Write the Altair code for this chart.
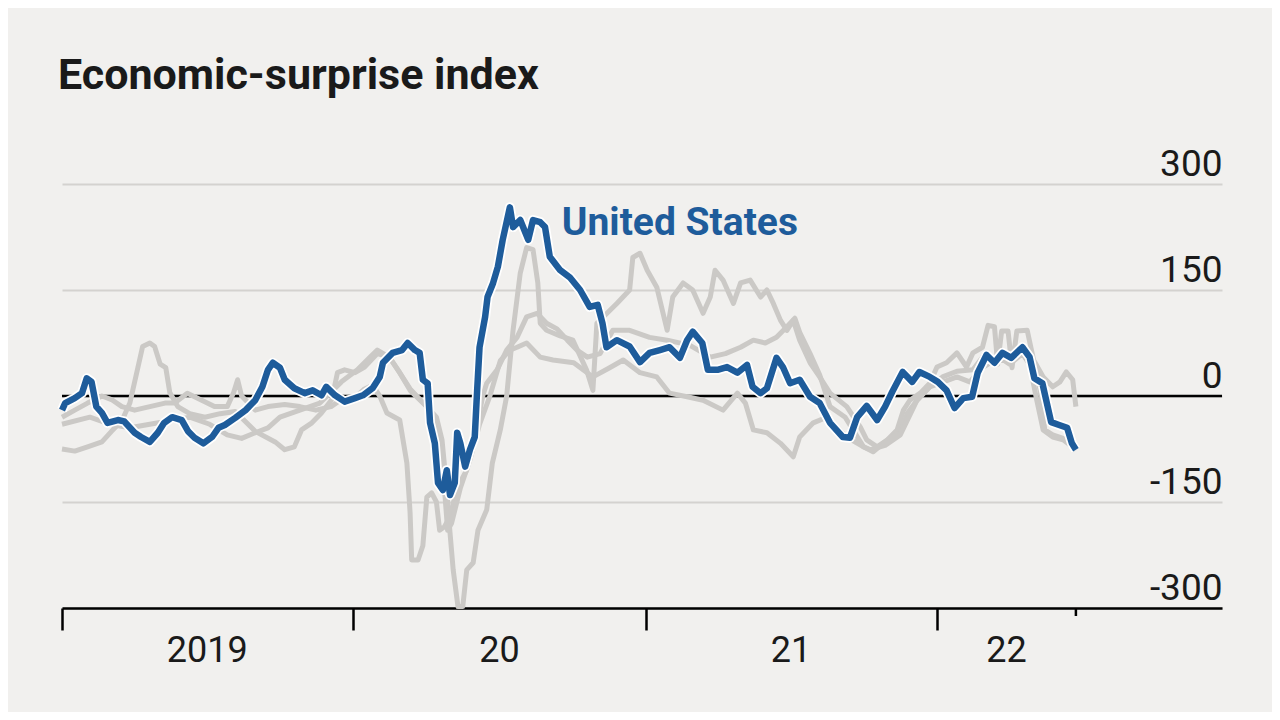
import altair as alt
import pandas as pd

# ---------------- data ----------------
us_dates = [
    "2019-01-01", "2019-01-05", "2019-01-17", "2019-01-26", "2019-02-01", "2019-02-07",
    "2019-02-13", "2019-02-20", "2019-02-27", "2019-03-12", "2019-03-20", "2019-04-02",
    "2019-04-10", "2019-04-21", "2019-05-01", "2019-05-09", "2019-05-19", "2019-05-31",
    "2019-06-08", "2019-06-16", "2019-06-27", "2019-07-08", "2019-07-16", "2019-07-24",
    "2019-08-06", "2019-08-19", "2019-08-31", "2019-09-09", "2019-09-16", "2019-09-22",
    "2019-10-01", "2019-10-07", "2019-10-19", "2019-11-01", "2019-11-11", "2019-11-22",
    "2019-11-28", "2019-12-09", "2019-12-21", "2020-01-03", "2020-01-13", "2020-01-25",
    "2020-02-03", "2020-02-07", "2020-02-19", "2020-03-02", "2020-03-09", "2020-03-18",
    "2020-03-24", "2020-03-28", "2020-04-03", "2020-04-06", "2020-04-12", "2020-04-16",
    "2020-04-22", "2020-04-27", "2020-05-01", "2020-05-07", "2020-05-10", "2020-05-14",
    "2020-05-20", "2020-05-26", "2020-06-01", "2020-06-04", "2020-06-07", "2020-06-14",
    "2020-06-17", "2020-06-24", "2020-06-30", "2020-07-06", "2020-07-15", "2020-07-19",
    "2020-07-28", "2020-08-07", "2020-08-13", "2020-08-22", "2020-08-28", "2020-09-03",
    "2020-09-16", "2020-09-28", "2020-10-11", "2020-10-23", "2020-11-02", "2020-11-08",
    "2020-11-13", "2020-11-26", "2020-12-12", "2020-12-25", "2021-01-06", "2021-01-19",
    "2021-01-31", "2021-02-13", "2021-02-22", "2021-03-01", "2021-03-13", "2021-03-20",
    "2021-04-01", "2021-04-13", "2021-04-26", "2021-05-08", "2021-05-15", "2021-05-25",
    "2021-06-02", "2021-06-14", "2021-06-22", "2021-07-01", "2021-07-13", "2021-07-26",
    "2021-08-07", "2021-08-20", "2021-09-05", "2021-09-14", "2021-09-23", "2021-10-05",
    "2021-10-18", "2021-10-28", "2021-11-06", "2021-11-19", "2021-12-01", "2021-12-10",
    "2021-12-23", "2022-01-02", "2022-01-13", "2022-01-23", "2022-02-03", "2022-02-14",
    "2022-02-21", "2022-03-04", "2022-03-14", "2022-03-24", "2022-04-04", "2022-04-18",
    "2022-04-27", "2022-05-03", "2022-05-13", "2022-05-24", "2022-06-03", "2022-06-13",
    "2022-06-19", "2022-06-24",
]
us_values = [
    -20, -10, -3, 4, 25, 20,
    -15, -24, -38, -34, -36, -52,
    -58, -65, -52, -38, -30, -34,
    -50, -59, -67, -58, -45, -41,
    -31, -20, -6, 13, 37, 47,
    40, 23, 11, 4, 8, 1,
    13, 1, -8, -3, 1, 11,
    27, 47, 61, 65, 75, 65,
    61, 23, 18, -38, -67, -123,
    -133, -105, -140, -123, -52, -67,
    -100, -76, -58, 8, 69, 112,
    140, 160, 183, 221, 267, 239,
    249, 221, 249, 246, 239, 197,
    178, 168, 150, 126, 129, 103,
    69, 79, 70, 48, 61, 65,
    69, 54, 79, 91, 75, 37,
    37, 41, 33, 44, 13, 4,
    11, 54, 41, 18, 23, -1,
    -10, -38, -58, -59, -30, -14,
    -34, -15, 6, 34, 20, 34,
    27, 20, 8, -17, -3, -1,
    33, 58, 47, 61, 54, 69,
    55, 25, 18, -37, -41, -45,
    -67, -76,
]

other1_dates = [
    "2019-01-01", "2019-01-17", "2019-02-02", "2019-02-20", "2019-03-04", "2019-03-17",
    "2019-03-27", "2019-04-06", "2019-04-12", "2019-04-21", "2019-04-27", "2019-05-04",
    "2019-05-11", "2019-05-16", "2019-05-26", "2019-06-10", "2019-06-29", "2019-07-18",
    "2019-08-06", "2019-08-31", "2019-09-25", "2019-10-07", "2019-10-19", "2019-10-28",
    "2019-11-10", "2019-11-22", "2019-12-05", "2019-12-12", "2019-12-21", "2020-01-03",
    "2020-01-15", "2020-01-31", "2020-02-15", "2020-02-28", "2020-03-12", "2020-04-02",
    "2020-04-14", "2020-04-21", "2020-04-27", "2020-04-30", "2020-05-05", "2020-05-11",
    "2020-05-17", "2020-05-22", "2020-05-30", "2020-06-05", "2020-06-16", "2020-06-23",
    "2020-07-03", "2020-07-11", "2020-07-15", "2020-07-19", "2020-07-28", "2020-08-05",
    "2020-08-13", "2020-08-19", "2020-08-22", "2020-08-30", "2020-09-16", "2020-10-02",
    "2020-10-19", "2020-10-27", "2020-11-01", "2020-11-26", "2020-12-12", "2020-12-16",
    "2020-12-25", "2021-01-03", "2021-01-15", "2021-01-28", "2021-02-04", "2021-02-17",
    "2021-03-01", "2021-03-14", "2021-03-23", "2021-03-29", "2021-04-08", "2021-04-21",
    "2021-04-30", "2021-05-12", "2021-05-25", "2021-06-02", "2021-06-10", "2021-06-19",
    "2021-06-27", "2021-07-05", "2021-07-13", "2021-07-26", "2021-08-07", "2021-08-20",
    "2021-09-10", "2021-09-27", "2021-10-05", "2021-10-18", "2021-10-31", "2021-11-12",
    "2021-11-20", "2021-11-28", "2021-12-11", "2021-12-23", "2022-01-01", "2022-01-13",
    "2022-01-26", "2022-02-07", "2022-02-15", "2022-02-27", "2022-03-06", "2022-03-14",
    "2022-03-18", "2022-03-23", "2022-03-31", "2022-04-05", "2022-04-11", "2022-04-24",
    "2022-05-02", "2022-05-14", "2022-05-26", "2022-06-04", "2022-06-12", "2022-06-20",
    "2022-06-24",
]
other1_values = [
    -75, -78, -72, -65, -50, -35,
    -10, 40, 70, 75, 70, 45,
    40, 5, -15, -25, -30, -25,
    -22, -50, -65, -76, -72, -48,
    -38, -24, -5, 33, 37, 33,
    41, 60, 55, 33, 10, -15,
    -30, -62, -133, -180, -246, -298,
    -298, -246, -236, -190, -161, -95,
    -48, 0, 47, 93, 174, 210,
    207, 160, 103, 93, 85, 79,
    37, 8, 103, 131, 150, 196,
    202, 178, 154, 93, 140, 160,
    150, 117, 140, 178, 164, 131,
    160, 164, 140, 150, 131, 107,
    93, 107, 79, 47, 27, 4,
    -15, -44, -62, -72, -62, -48,
    -20, -6, 4, 18, 41, 47,
    61, 41, 61, 69, 100, 98,
    45, 92, 92, 40, 92, 93,
    51, 27, 13, 20, 34, 23,
    -15,
]

other2_dates = [
    "2019-01-01", "2019-01-17", "2019-02-02", "2019-02-20", "2019-03-04", "2019-03-17",
    "2019-04-02", "2019-04-21", "2019-05-10", "2019-05-22", "2019-06-07", "2019-06-25",
    "2019-07-11", "2019-07-27", "2019-08-04", "2019-08-09", "2019-08-14", "2019-08-31",
    "2019-09-16", "2019-10-07", "2019-10-26", "2019-11-15", "2019-12-04", "2019-12-17",
    "2020-01-05", "2020-01-15", "2020-01-25", "2020-02-03", "2020-02-12", "2020-02-28",
    "2020-03-08", "2020-03-12", "2020-03-14", "2020-03-22", "2020-03-28", "2020-04-02",
    "2020-04-08", "2020-04-14", "2020-04-18", "2020-04-24", "2020-05-01", "2020-05-10",
    "2020-05-22", "2020-05-30", "2020-06-07", "2020-06-11", "2020-06-16", "2020-06-29",
    "2020-07-11", "2020-07-24", "2020-08-05", "2020-08-18", "2020-08-30", "2020-09-12",
    "2020-09-25", "2020-10-07", "2020-10-20", "2020-11-05", "2020-11-21", "2020-12-12",
    "2021-01-06", "2021-01-28", "2021-02-25", "2021-03-23", "2021-04-11", "2021-04-30",
    "2021-05-16", "2021-05-31", "2021-06-14", "2021-06-27", "2021-07-07", "2021-07-13",
    "2021-07-26", "2021-08-07", "2021-08-20", "2021-09-08", "2021-10-01", "2021-10-13",
    "2021-10-31", "2021-11-16", "2021-11-25", "2021-12-07", "2021-12-23", "2022-01-08",
    "2022-01-26", "2022-02-15", "2022-02-27", "2022-03-17", "2022-04-02", "2022-04-18",
    "2022-04-27", "2022-05-06", "2022-05-14", "2022-05-26", "2022-06-08", "2022-06-20",
]
other2_values = [
    -30, -20, -10, 0, -5, -15,
    -20, -15, -10, -10, 4, -6,
    -15, -15, 5, 23, 0, -20,
    -15, -12, -15, -20, -15, -5,
    0, 10, 15, 0, -24, -34,
    -95, -165, -232, -232, -212, -143,
    -137, -150, -190, -185, -171, -129,
    -105, -72, -24, 0, 18, 37,
    65, 83, 112, 117, 103, 95,
    79, 65, 55, 60, 93, 93,
    83, 79, 72, 55, 60, 69,
    79, 75, 83, 98, 110, 90,
    60, 30, -15, -30, -72, -79,
    -62, -52, -24, -6, 13, 27,
    35, 37, 55, 50, 51, 61,
    45, -6, -48, -58, -62, -72,
]

other3_dates = [
    "2019-01-01", "2019-02-05", "2019-03-02", "2019-03-27", "2019-04-21", "2019-05-16",
    "2019-06-10", "2019-07-05", "2019-07-27", "2019-08-14", "2019-08-31", "2019-09-16",
    "2019-10-01", "2019-10-26", "2019-11-20", "2019-12-17", "2020-01-06", "2020-01-22",
    "2020-01-31", "2020-02-15", "2020-02-28", "2020-03-12", "2020-04-02", "2020-04-14",
    "2020-04-24", "2020-04-28", "2020-05-03", "2020-05-14", "2020-05-26", "2020-06-07",
    "2020-06-20", "2020-07-03", "2020-07-15", "2020-07-24", "2020-08-05", "2020-08-22",
    "2020-09-07", "2020-10-03", "2020-10-27", "2020-11-17", "2020-12-04", "2020-12-25",
    "2021-01-15", "2021-01-31", "2021-02-22", "2021-03-14", "2021-04-08", "2021-04-26",
    "2021-05-06", "2021-05-16", "2021-06-02", "2021-06-19", "2021-07-05", "2021-07-13",
    "2021-07-30", "2021-08-16", "2021-09-10", "2021-10-01", "2021-10-10", "2021-10-28",
    "2021-11-16", "2021-12-07", "2021-12-23", "2022-01-26", "2022-02-11", "2022-02-27",
    "2022-03-20", "2022-04-02", "2022-04-18", "2022-05-06", "2022-05-10", "2022-05-16",
    "2022-05-26", "2022-06-08", "2022-06-24",
]
other3_values = [
    -40, -30, -40, -45, -40, -35,
    -30, -40, -55, -60, -52, -45,
    -30, -20, -10, 20, 37, 55,
    65, 55, 33, 8, -15, -40,
    -130, -190, -180, -130, -90, -40,
    0, 50, 65, 69, 75, 55,
    51, 47, 27, 40, 51, 33,
    27, 4, -1, -6, -20, 4,
    -10, -48, -52, -67, -86, -58,
    -38, -30, -58, -72, -76, -70,
    -55, -6, 13, 27, 20, 40,
    55, 45, 60, 30, 8, -48,
    -55, -60, -76,
]

year_labels = ["2019", "20", "21", "22"]
year_label_dates = ["2019-07-02", "2020-07-02", "2021-07-02", "2022-03-29"]
year_starts = [2019, 2020, 2021, 2022]
data_end = "2022-06-24"
y_ticks = [-300, -150, 0, 150, 300]

# ---------------- build frames ----------------
def frame(name, dates, values):
    return pd.DataFrame({"date": pd.to_datetime(dates), "value": values, "series": name})

us = frame("United States", us_dates, us_values)
others = pd.concat([
    frame("Other economy 1", other1_dates, other1_values),
    frame("Other economy 2", other2_dates, other2_values),
    frame("Other economy 3", other3_dates, other3_values),
])

BLUE = "#1e5c9b"
GREY = "#cbc9c6"
INK = "#1a1a1a"
FONT = "Roboto"

x_scale = alt.Scale(domain=[alt.DateTime(year=2019, month=1, date=1),
                            alt.DateTime(year=2022, month=12, date=24)])
y_scale = alt.Scale(domain=[-300, 300], nice=False)

x_axis = alt.Axis(
    values=[alt.DateTime(year=y, month=1, date=1) for y in year_starts],
    labels=False, ticks=True, tickSize=22, tickWidth=2.5, tickColor="black",
    domain=True, domainColor="black", domainWidth=2.5, grid=False, title=None,
)
y_axis = alt.Axis(
    orient="right", values=y_ticks, grid=True, gridColor="#d4d2cf", gridWidth=2,
    ticks=False, domain=False, labelAlign="right", labelPadding=0,
    labelBaseline="alphabetic", labelOffset=-9, labelFont=FONT, labelFontSize=37,
    labelColor=INK, title=None, labelExpr="'' + datum.value",
)

X = alt.X("date:T", scale=x_scale, axis=x_axis)
Y = alt.Y("value:Q", scale=y_scale, axis=y_axis)

grey_lines = alt.Chart(others).mark_line(
    color=GREY, strokeWidth=5, strokeJoin="round"
).encode(x=X, y=Y, detail="series:N")

zero_line = alt.Chart(pd.DataFrame({"value": [0]})).mark_rule(
    color="black", strokeWidth=2.5
).encode(y=Y)

us_halo = alt.Chart(us).mark_line(
    color="white", strokeWidth=10, strokeJoin="round"
).encode(x=X, y=Y)

us_line = alt.Chart(us).mark_line(
    color=BLUE, strokeWidth=6.5, strokeJoin="round"
).encode(x=X, y=Y)

us_label = alt.Chart(pd.DataFrame({"date": pd.to_datetime(["2020-09-18"]), "value": [228],
                                   "label": ["United States"]})).mark_text(
    font=FONT, fontSize=39, fontWeight="bold", color=BLUE, align="left", baseline="alphabetic"
).encode(x=X, y=Y, text="label:N")

year_text = alt.Chart(pd.DataFrame({"date": pd.to_datetime(year_label_dates),
                                    "label": year_labels})).mark_text(
    font=FONT, fontSize=36, color=INK, align="center", baseline="alphabetic"
).encode(x=X, y=alt.value(478), text="label:N")

end_tick = alt.Chart(pd.DataFrame({"date": pd.to_datetime([data_end])})).mark_rule(
    color="black", strokeWidth=2.5
).encode(x=X, y=alt.value(424), y2=alt.value(432))

chart = alt.layer(
    zero_line, grey_lines, us_halo, us_line, us_label, year_text, end_tick
).properties(
    width=1160, height=424,
    padding={"left": 54, "top": 176, "right": 50, "bottom": 104},
    autosize=alt.AutoSizeParams(type="none"),
    title=alt.TitleParams(
        "Economic-surprise index", anchor="start", font=FONT, fontSize=43,
        fontWeight="bold", color=INK, offset=13, dx=1, baseline="alphabetic",
    ),
).configure(background="#f1f0ee").configure_view(stroke=None)

chart.save("out.html", embed_options={"renderer": "svg", "actions": False})
